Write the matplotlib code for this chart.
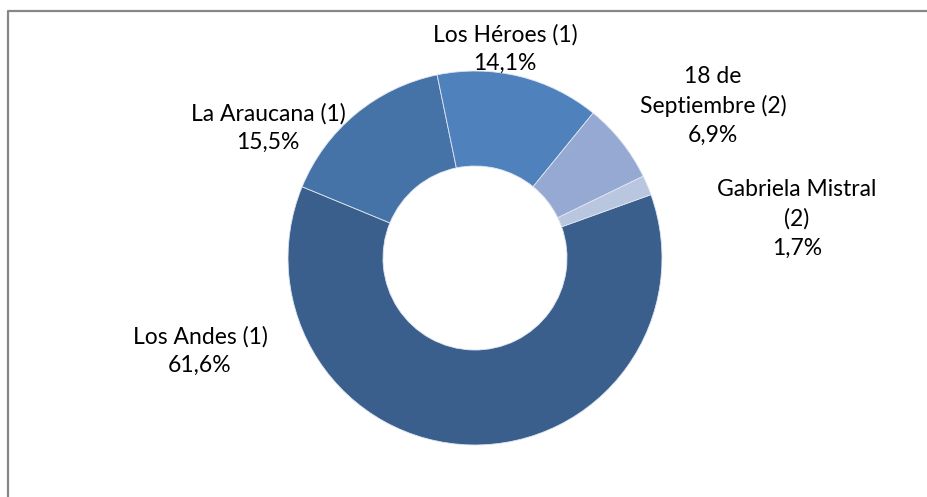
import matplotlib
matplotlib.use("Agg")
import matplotlib.pyplot as plt

# data
labels = ["Los Andes (1)", "La Araucana (1)", "Los Héroes (1)", "18 de\nSeptiembre (2)", "Gabriela Mistral\n(2)"]
shares = [61.6, 15.5, 14.1, 6.9, 1.7]
colors = ["#3B5F8D", "#4573A7", "#4F81BD", "#95A9D2", "#B9C6E0"]

# label anchor points (pixel layout, y from top)
label_pos = [(200, 351), (268, 128), (505, 49), (713, 106), (797, 219)]

W, H = 928, 497
fig = plt.figure(figsize=(W / 100, H / 100), dpi=100)
ax = fig.add_axes([0, 0, 1, 1])

cx, cy, r = 475, H - 258, 187
wedges, _ = ax.pie(
    shares,
    colors=colors,
    startangle=19.8,
    counterclock=False,
    center=(cx, cy),
    radius=r,
    wedgeprops=dict(width=r - 92, edgecolor="#dfe6f0", linewidth=0.6),
    frame=False,
)
ax.set_xlim(0, W)
ax.set_ylim(0, H)
ax.set_aspect("equal")
ax.axis("off")

for lab, val, (x, y) in zip(labels, shares, label_pos):
    txt = f"{lab}\n{val:.1f}%".replace(".", ",")
    ax.text(x, H - y, txt, ha="center", va="center", fontsize=16.5,
            family="Lato", color="black", linespacing=1.45)

# chart border: only the left and top edges are inside the image
ax.plot([8, 8, W - 1], [0, H - 11, H - 11], color="#878787", linewidth=1.6,
        solid_capstyle="butt", clip_on=True)

fig.savefig("out.png", dpi=100)
